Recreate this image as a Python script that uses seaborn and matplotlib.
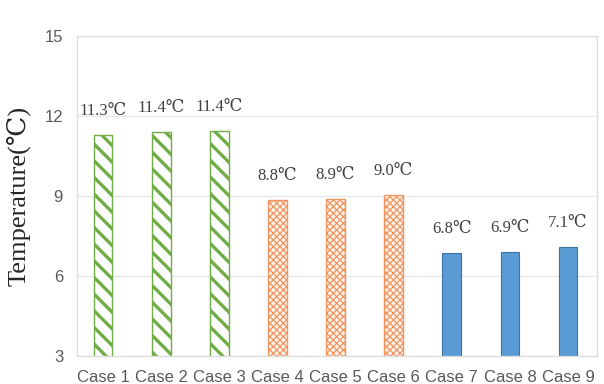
import pandas as pd
import matplotlib
matplotlib.use("Agg")
import matplotlib.pyplot as plt
import seaborn as sb

cases = ["Case 1", "Case 2", "Case 3", "Case 4", "Case 5", "Case 6", "Case 7", "Case 8", "Case 9"]
temps = [11.3, 11.4, 11.45, 8.85, 8.9, 9.05, 6.85, 6.9, 7.1]
labels = ["11.3℃", "11.4℃", "11.4℃", "8.8℃", "8.9℃", "9.0℃", "6.8℃", "6.9℃", "7.1℃"]
groups = ["A", "A", "A", "B", "B", "B", "C", "C", "C"]

df = pd.DataFrame({"case": cases, "temp": temps, "group": groups})

sb.set_style("white")
plt.rcParams["hatch.linewidth"] = 2.4

fig = plt.figure(figsize=(6.04, 3.84), dpi=100)
ax = fig.add_axes([0.1275, 0.073, 0.861, 0.833])

sb.barplot(data=df, x="case", y="temp", hue="group", dodge=False, width=0.32,
           palette=["white", "white", "#5B9BD5"], legend=False, ax=ax)

# style each group: green stripes, orange lattice, plain blue
bars = [p for p in ax.patches if p.get_height() > 0]
bars.sort(key=lambda p: p.get_x())
for i, p in enumerate(bars):
    g = groups[i]
    if g == "A":
        p.set_facecolor("white")
        p.set_edgecolor("#70AD47")
        p.set_hatch("\\\\")
        p.set_linewidth(1.0)
    elif g == "B":
        p.set_facecolor("#FFF4EC")
        p.set_edgecolor("#EE9560")
        p.set_hatch("xxxxx")
        p.set_linewidth(1.0)
        if hasattr(p, "set_hatch_linewidth"):
            p.set_hatch_linewidth(0.9)
        else:
            p._hatch_linewidth = 0.9
    else:
        p.set_facecolor("#5B9BD5")
        p.set_edgecolor("#41719C")
        p.set_linewidth(0.8)

# value labels
for i, p in enumerate(bars):
    ax.text(p.get_x() + p.get_width() / 2, p.get_height() + 0.6, labels[i],
            ha="center", va="bottom", fontsize=12, color="#404040",
            family=["Liberation Serif", "DejaVu Serif"])

ax.set_ylim(3, 15)
ax.set_yticks([3, 6, 9, 12, 15])
ax.set_xlim(-0.45, 8.5)
ax.yaxis.grid(True, color="#E8E8E8", linewidth=1.0)
ax.set_axisbelow(True)
for s in ax.spines.values():
    s.set_color("#DDDDDD")
    s.set_linewidth(1.0)

ax.tick_params(axis="both", length=0, labelsize=12, labelcolor="#595959")
for t in ax.get_xticklabels() + ax.get_yticklabels():
    t.set_family("Liberation Sans")
ax.tick_params(axis="y", pad=10)
ax.tick_params(axis="x", pad=10)

ax.set_xlabel("")
ax.set_ylabel("Temperature(℃)", fontsize=19, color="#262626",
              family=["Liberation Serif", "DejaVu Serif"], labelpad=10)

fig.savefig("out.png", dpi=100)
